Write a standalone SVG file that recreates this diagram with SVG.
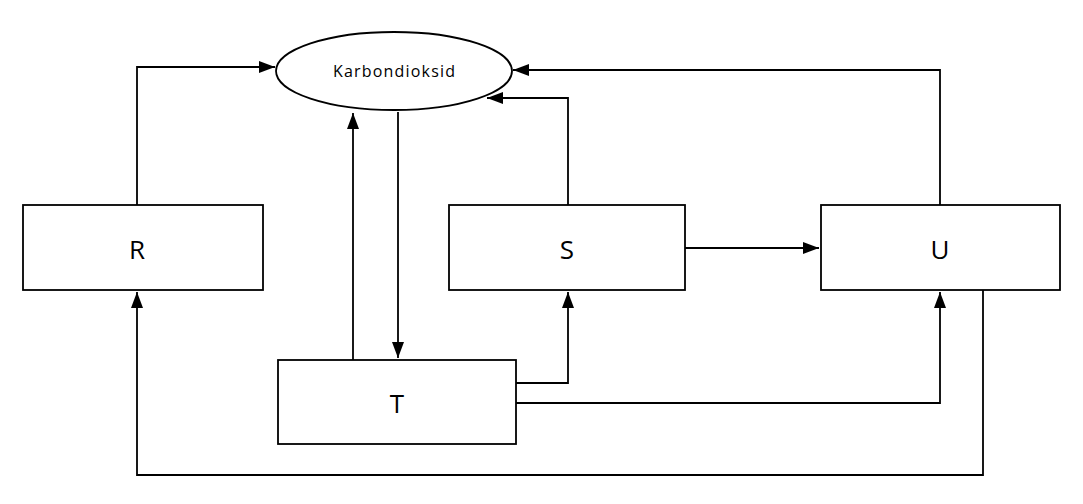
<svg xmlns="http://www.w3.org/2000/svg" width="1083" height="504" viewBox="0 0 1083 504">
<defs><marker id="a" markerWidth="16" markerHeight="12" refX="16" refY="6" orient="auto" markerUnits="userSpaceOnUse"><path d="M0,0 L16,6 L0,12 Z" fill="#000"/></marker></defs>
<style>.n{fill:#fff;stroke:#000;stroke-width:1.8}.c{fill:none;stroke:#000;stroke-width:1.8;marker-end:url(#a)}text{font-family:"Open Sans","DejaVu Sans",sans-serif;text-anchor:middle;fill:#000}</style>
<rect width="1083" height="504" fill="#fff"/>
<g id="connectors">
<path class="c" d="M137,205 V67 H275"/>
<path class="c" d="M398,112 V358"/>
<path class="c" d="M353,360 V113"/>
<path class="c" d="M568,205 V98 H487"/>
<path class="c" d="M940,205 V70 H513"/>
<path class="c" d="M685,248 H819"/>
<path class="c" d="M516,383 H568 V292"/>
<path class="c" d="M516,403 H940 V292"/>
<path class="c" d="M983,290 V475 H137 V292"/>
</g>
<g id="karbondioksid"><ellipse class="n" cx="394" cy="71" rx="118" ry="39"/><text x="394" y="77" font-size="16" textLength="122">Karbondioksid</text></g>
<g id="R"><rect class="n" x="23" y="205" width="240" height="85"/><text x="137" y="259" font-size="26">R</text></g>
<g id="S"><rect class="n" x="449" y="205" width="236" height="85"/><text x="567" y="259" font-size="26">S</text></g>
<g id="U"><rect class="n" x="821" y="205" width="239" height="85"/><text x="940" y="259" font-size="26">U</text></g>
<g id="T"><rect class="n" x="278" y="360" width="238" height="84"/><text x="397" y="413" font-size="26">T</text></g>
</svg>
